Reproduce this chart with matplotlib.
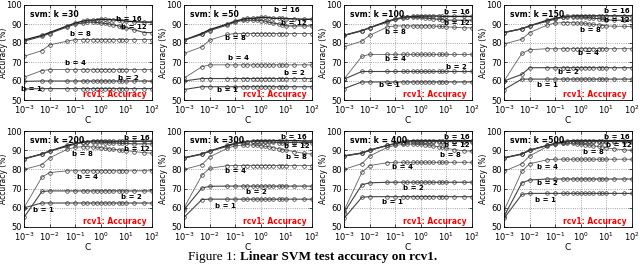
import matplotlib
matplotlib.use("Agg")
import matplotlib.pyplot as plt
from matplotlib.ticker import LogLocator, NullLocator

C = [1e-3, 5e-3, 1e-2, 5e-2, 0.1, 0.2, 0.3, 0.5, 0.7, 1, 1.5, 2, 3, 5, 7, 10, 20, 50, 100]
bits = [16, 12, 8, 4, 2, 1]
ks = [30, 50, 100, 150, 200, 300, 400, 500]
titles = ["svm: k =30", "svm: k =50", "svm: k =100", "svm: k =150",
          "svm: k =200", "svm: k =300", "svm: k = 400", "svm: k =500"]

acc_k30 = {
    16: [81.5, 84, 85.5, 89, 90.5, 91.5, 92, 92, 92.3, 92.5, 92.4, 92.3, 92.2, 92, 91.8, 91.5, 91.2, 91, 91],
    12: [81, 83.5, 85, 88.5, 90, 90.5, 91, 91, 90.8, 90.5, 90.3, 90, 89.6, 89, 88.5, 88, 87, 85.5, 85.5],
    8:  [73, 76, 79, 81, 81.8, 81.8, 81.8, 81.8, 81.8, 81.8, 81.8, 81.8, 81.8, 81.8, 81.8, 81.8, 81.8, 81.8, 81.8],
    4:  [62, 65.5, 66, 66, 66, 66, 66, 66, 66, 66, 66, 66, 66, 66, 66, 66, 66, 66, 66],
    2:  [59.8, 60, 60, 60, 60, 60, 60, 60, 60, 60, 60, 60, 60, 60, 60, 60, 60, 60, 60],
    1:  [55.8, 56, 56, 56, 56, 56, 56, 56, 56, 56, 56, 56, 56, 56, 56, 56, 56, 56, 56],
}
acc_k50 = {
    16: [81.5, 85, 87, 90, 91.5, 92.5, 93, 93, 93.2, 93.5, 93.5, 93.3, 93, 93, 93, 92.8, 92.7, 92.5, 92.5],
    12: [81.5, 84.5, 86.5, 89.5, 91, 92, 92, 92, 92, 91.8, 91.5, 91, 90.5, 90, 89.5, 89, 89, 89, 89],
    8:  [74.5, 78, 81.5, 84.5, 85, 85, 85, 85, 85, 85, 85, 85, 85, 85, 85, 85, 85, 85, 85],
    4:  [61.5, 67.5, 68.5, 68.5, 68.5, 68.5, 68.5, 68.5, 68.5, 68.5, 68.5, 68.5, 68.5, 68.5, 68.5, 68.5, 68.5, 68.5, 68.5],
    2:  [60, 61.3, 61.3, 61.3, 61.3, 61.3, 61.3, 61.3, 61.3, 61.3, 61.3, 61.3, 61.3, 61.3, 61.3, 61.3, 61.3, 61.3, 61.3],
    1:  [55.5, 57, 57, 57, 57, 57, 57, 57, 57, 57, 57, 57, 57, 57, 57, 57, 57, 57, 57],
}
acc_k100 = {
    16: [84, 86.5, 88, 91.5, 92.5, 93.5, 93.8, 94, 94, 94.2, 94.2, 94.2, 94.2, 94.2, 94, 94, 94, 94, 94],
    12: [84, 86.5, 88, 91, 92.5, 93, 93.5, 93.5, 93.5, 93.5, 93.2, 93, 92.7, 92.5, 92.3, 92, 92, 92, 92],
    8:  [78, 81, 84, 88.5, 89, 89, 89, 89, 89, 89, 89, 89, 88.9, 88.8, 88.7, 88.5, 88.3, 88, 88],
    4:  [61, 73, 74, 74, 74, 74, 74, 74, 74, 74, 74, 74, 74, 74, 74, 74, 74, 74, 74],
    2:  [61, 65, 65, 65, 65, 65, 65, 65, 65, 65, 65, 65, 65, 65, 65, 65, 65, 65, 65],
    1:  [56, 59.5, 59.5, 59.5, 59.5, 59.5, 59.5, 59.5, 59.5, 59.5, 59.5, 59.5, 59.5, 59.5, 59.5, 59.5, 59.5, 59.5, 59.5],
}
acc_k150 = {
    16: [85.5, 87.5, 89, 92, 93, 93.7, 94, 94.2, 94.3, 94.3, 94.3, 94.3, 94.3, 94.3, 94.3, 94.3, 94.3, 94.3, 94.3],
    12: [85.5, 87.5, 89, 91.5, 92.5, 93.5, 93.7, 93.8, 93.8, 93.7, 93.5, 93.3, 93, 92.8, 92.5, 92.2, 92, 92, 92],
    8:  [79.5, 82, 85.5, 89.5, 90.5, 90.7, 90.7, 90.7, 90.5, 90.5, 90.3, 90, 89.8, 89.5, 89.2, 89, 88.8, 88.8, 88.7],
    4:  [60, 74.5, 76.5, 77, 77, 77, 77, 77, 77, 77, 77, 77, 77, 77, 77, 77, 77, 77, 77],
    2:  [60, 63.5, 67, 67, 67, 67, 67, 67, 67, 67, 67, 67, 67, 67, 67, 67, 67, 67, 67],
    1:  [55.5, 61, 61, 61, 61, 61, 61, 61, 61, 61, 61, 61, 61, 61, 61, 61, 61, 61, 61],
}
acc_k200 = {
    16: [85.5, 88, 89.5, 92.5, 93.5, 94.2, 94.5, 94.8, 94.8, 94.8, 94.8, 94.8, 94.7, 94.7, 94.7, 94.7, 94.7, 94.7, 94.7],
    12: [85.5, 88, 89.5, 92, 93.3, 94, 94.2, 94.3, 94.3, 94.2, 94, 94, 93.8, 93.7, 93.5, 93.5, 93.3, 93.3, 93.3],
    8:  [80, 82.5, 86, 90.5, 91.5, 91.8, 91.8, 91.7, 91.5, 91.3, 91, 90.7, 90.5, 90.2, 90, 89.8, 89.3, 88.7, 88.5],
    4:  [60, 76, 78.3, 79.3, 79.3, 79.3, 79.3, 79.3, 79.3, 79.3, 79.3, 79.3, 79.3, 79.3, 79.3, 79.3, 79.3, 79.3, 79.3],
    2:  [55, 68.5, 68.8, 68.8, 68.8, 68.8, 68.8, 68.8, 68.8, 68.8, 68.8, 68.8, 68.8, 68.8, 68.8, 68.8, 68.8, 68.8, 68.8],
    1:  [60, 62.5, 62.5, 62.5, 62.5, 62.5, 62.5, 62.5, 62.5, 62.5, 62.5, 62.5, 62.5, 62.5, 62.5, 62.5, 62.5, 62.5, 62.5],
}
acc_k300 = {
    16: [86, 88, 89.5, 92.5, 93.5, 94.2, 94.5, 94.8, 95, 95, 95, 95, 95, 95, 95, 95, 95, 94.8, 94.8],
    12: [86, 88, 89.5, 92, 93.3, 94, 94.3, 94.5, 94.5, 94.5, 94.5, 94.3, 94.2, 94, 94, 94, 94, 94, 94],
    8:  [80, 82.5, 86.5, 91, 92.3, 92.7, 92.8, 92.7, 92.5, 92.3, 92, 91.8, 91.3, 90.8, 90.3, 90, 89.3, 88.3, 88],
    4:  [60, 77, 80.5, 82, 82, 82, 82, 82, 82, 82, 82, 82, 82, 82, 82, 82, 82, 82, 82],
    2:  [59, 70.3, 71.2, 71.3, 71.3, 71.3, 71.3, 71.3, 71.3, 71.3, 71.3, 71.3, 71.3, 71.3, 71.3, 71.3, 71.3, 71.3, 71.3],
    1:  [55, 64.3, 64.5, 64.5, 64.5, 64.5, 64.5, 64.5, 64.5, 64.5, 64.5, 64.5, 64.5, 64.5, 64.5, 64.5, 64.5, 64.5, 64.5],
}
acc_k400 = {
    16: [87, 88.5, 90, 92.5, 93.5, 94.3, 94.7, 95, 95, 95, 95, 95, 95, 95, 95, 95, 95, 95, 95],
    12: [87, 88.5, 90, 92.5, 93.3, 94, 94.3, 94.5, 94.5, 94.5, 94.5, 94.5, 94.5, 94.5, 94.5, 94.5, 94.5, 94.5, 94.5],
    8:  [80, 83, 87, 91.5, 92.5, 93, 93.2, 93.2, 93, 93, 92.8, 92.5, 92.2, 91.8, 91.5, 91, 90.3, 89.7, 89.5],
    4:  [58.5, 78.5, 82, 83.5, 83.7, 83.7, 83.7, 83.7, 83.7, 83.7, 83.7, 83.7, 83.7, 83.7, 83.7, 83.7, 83.7, 83.7, 83.7],
    2:  [57.5, 72, 73, 73.3, 73.3, 73.3, 73.3, 73.3, 73.3, 73.3, 73.3, 73.3, 73.3, 73.3, 73.3, 73.3, 73.3, 73.3, 73.3],
    1:  [54.5, 65.5, 65.8, 65.8, 65.8, 65.8, 65.8, 65.8, 65.8, 65.8, 65.8, 65.8, 65.8, 65.8, 65.8, 65.8, 65.8, 65.8, 65.8],
}
acc_k500 = {
    16: [86, 88, 90, 92.5, 93.5, 94.3, 94.7, 95, 95, 95, 95, 95, 95, 95, 95, 95, 95, 95, 95],
    12: [86, 88, 90, 92.5, 93.3, 94, 94.3, 94.5, 94.5, 94.5, 94.5, 94.5, 94.5, 94.5, 94.5, 94.5, 94.5, 94.5, 94.5],
    8:  [79, 83, 87, 92, 93, 93.5, 93.5, 93.5, 93.3, 93, 92.8, 92.5, 92.2, 92, 91.7, 91.3, 90.7, 90.2, 90],
    4:  [58.5, 79, 83, 85, 85.3, 85.3, 85.3, 85.3, 85.3, 85.3, 85.3, 85.3, 85.3, 85.3, 85.3, 85.3, 85.3, 85.3, 85.3],
    2:  [55.5, 73, 74.5, 75, 75, 75, 75, 75, 75, 75, 75, 75, 75, 75, 75, 75, 75, 75, 75],
    1:  [54.5, 67, 67.5, 67.5, 67.5, 67.5, 67.5, 67.5, 67.5, 67.5, 67.5, 67.5, 67.5, 67.5, 67.5, 67.5, 67.5, 67.5, 67.5],
}
panels = [acc_k30, acc_k50, acc_k100, acc_k150, acc_k200, acc_k300, acc_k400, acc_k500]

# label placements (C, accuracy) for "b = .." annotations, per panel
label_pos = [
    {16: (12, 92.8), 12: (20, 88.3), 8: (0.16, 84.5), 4: (0.1, 69.5), 2: (12, 61.8), 1: (0.002, 55.6)},
    {16: (10, 97.2), 12: (20, 90.5), 8: (0.1, 82.5), 4: (0.13, 72), 2: (20, 64.2), 1: (0.05, 55.2)},
    {16: (25, 96.3), 12: (25, 90.7), 8: (0.1, 86), 4: (0.1, 71.4), 2: (25, 67.6), 1: (0.06, 57.7)},
    {16: (25, 96.6), 12: (25, 92.2), 8: (2.3, 87), 4: (2.0, 74.8), 2: (0.33, 65), 1: (0.05, 57.8)},
    {16: (25, 96.6), 12: (25, 90.6), 8: (0.2, 88), 4: (0.3, 75.8), 2: (15, 65.8), 1: (0.006, 58.8)},
    {16: (20, 96.7), 12: (25, 92.3), 8: (25, 86.6), 4: (0.1, 79), 2: (0.7, 68), 1: (0.04, 61.1)},
    {16: (25, 97), 12: (25, 92.7), 8: (15, 87.5), 4: (0.2, 81.1), 2: (0.5, 70.1), 1: (0.08, 62.8)},
    {16: (25, 97), 12: (30, 92.8), 8: (3, 89.1), 4: (0.05, 81.1), 2: (0.05, 72.8), 1: (0.04, 64.1)},
]

W, H = 640, 265
fig = plt.figure(figsize=(W / 100, H / 100), dpi=100)
lefts = [24, 184, 344, 504]
rows = [(5, 100), (131, 227)]

line_colors = {16: "#1a1a1a", 12: "#444444", 8: "#606060", 4: "#606060", 2: "#444444", 1: "#444444"}
line_widths = {16: 1.0, 12: 0.8, 8: 0.6, 4: 0.6, 2: 0.8, 1: 0.8}

for i, data in enumerate(panels):
    r, c = divmod(i, 4)
    top, bot = rows[r]
    ax = fig.add_axes([lefts[c] / W, 1 - bot / H, 128 / W, (bot - top) / H])
    for b in bits:
        ax.plot(C, data[b], color=line_colors[b], lw=line_widths[b], marker="o",
                ms=2.6, mfc="none", mew=0.5, mec="#333333")
    ax.set_xscale("log")
    ax.set_xlim(1e-3, 1e2)
    ax.set_ylim(50, 100)
    ax.set_yticks([50, 60, 70, 80, 90, 100])
    ax.xaxis.set_major_locator(LogLocator(base=10, numticks=10))
    ax.xaxis.set_minor_locator(NullLocator())
    ax.grid(True, which="major", linestyle=":", color="#888888", lw=0.6)
    ax.tick_params(labelsize=6, length=2, width=0.5, direction="in", pad=1.5, top=True, right=True)
    ax.tick_params(axis="x", pad=2.8)
    for s in ax.spines.values():
        s.set_linewidth(0.6)
    ax.set_xlabel("C", fontsize=6.5, labelpad=-0.5)
    ax.set_ylabel("Accuracy (%)", fontsize=5.5)
    ax.yaxis.set_label_coords(-0.125, 0.5)
    ax.text(0.05, 0.9, titles[i], transform=ax.transAxes, fontsize=5.6, fontweight="bold",
            va="center", ha="left")
    for b in bits:
        x, y = label_pos[i][b]
        ax.text(x, y, f"b = {b}", fontsize=5, fontweight="bold", ha="center", va="center")
    ax.text(0.96, 0.06, "rcv1: Accuracy", transform=ax.transAxes, fontsize=5.5,
            fontweight="bold", color="red", ha="right", va="center")

fig.text(240 / W, 1 - 257 / H, "Figure 1: ", family="Liberation Serif", fontsize=9.5,
         ha="right", va="center")
fig.text(240 / W, 1 - 257 / H, "Linear SVM test accuracy on rcv1.", family="Liberation Serif",
         fontsize=9.5, fontweight="bold", ha="left", va="center")

fig.savefig("out.png", dpi=100)
